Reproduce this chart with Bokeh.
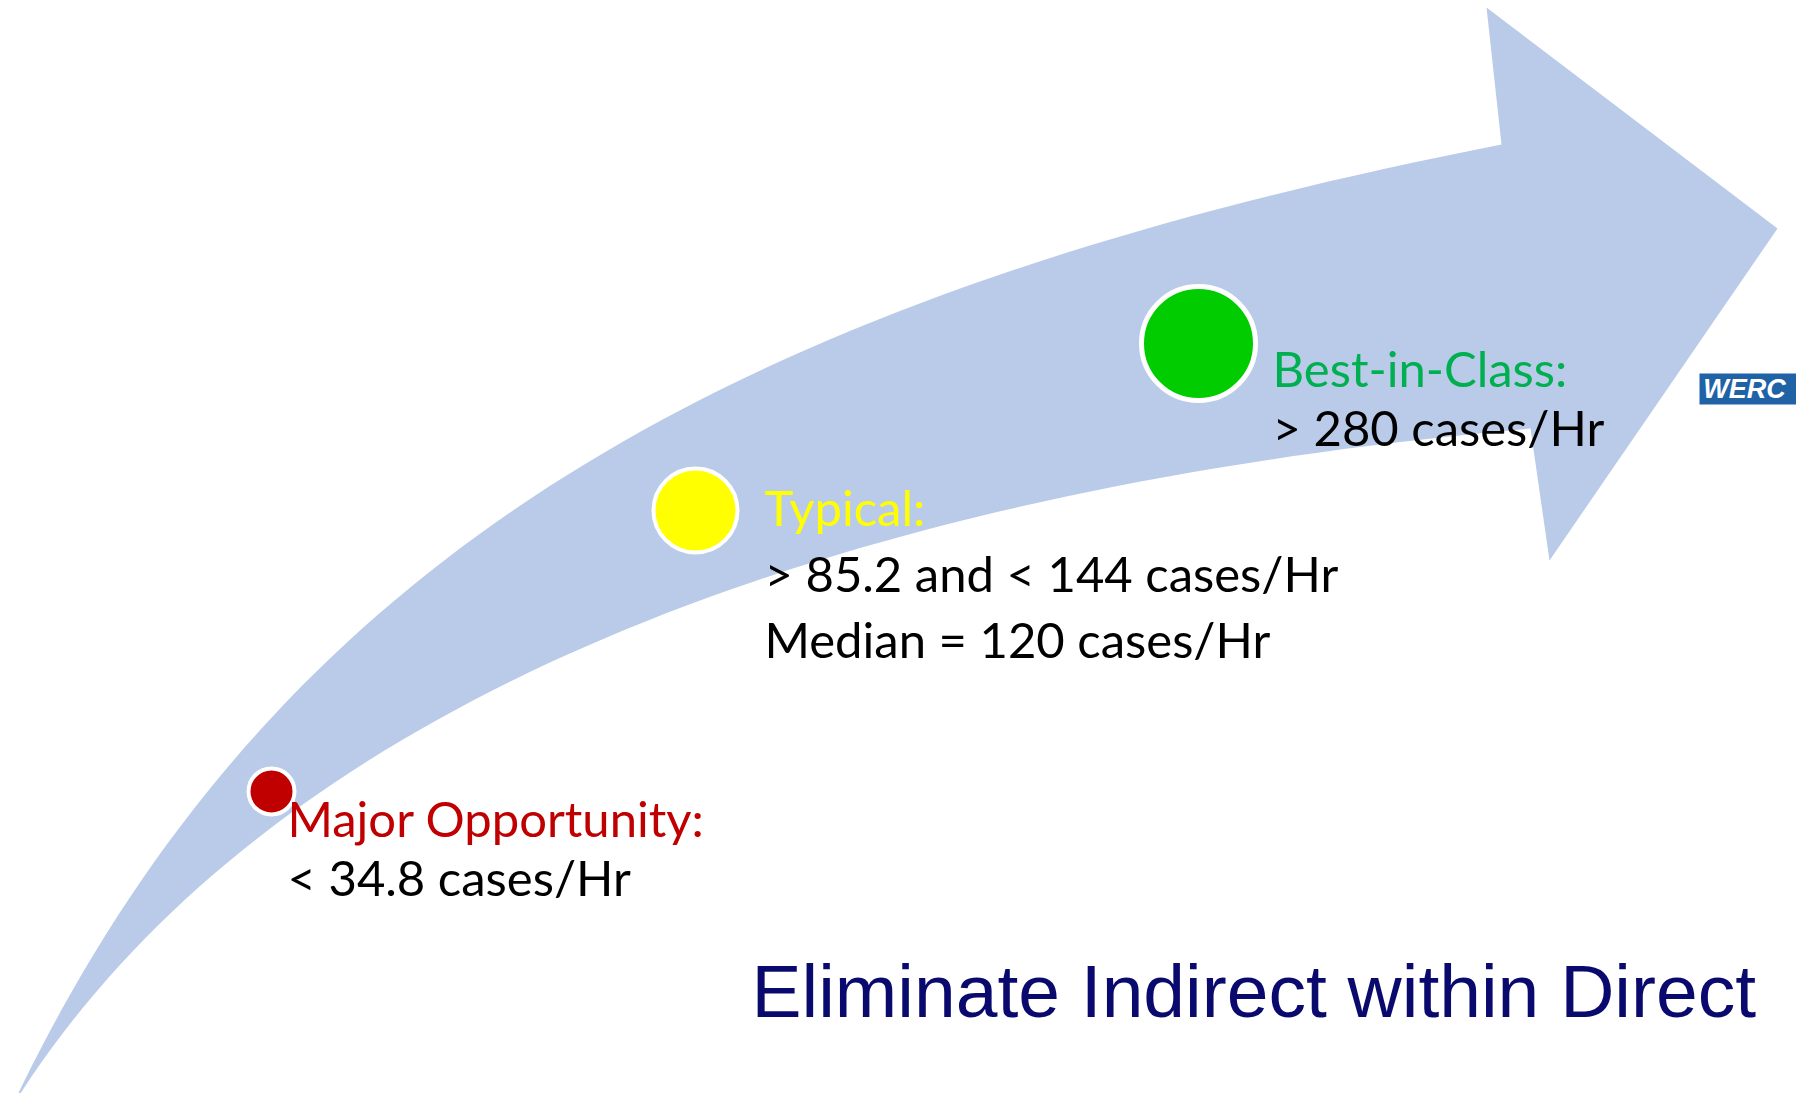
import numpy as np
from bokeh.plotting import figure
from bokeh.models import Range1d, ColumnDataSource
from bokeh.core.properties import value
from bokeh.embed import file_html
from bokeh.resources import INLINE

# ---------------- data ----------------
tiers = ["Major Opportunity:", "Typical:", "Best-in-Class:"]
tier_text_colors = ["#C00000", "#FFFF00", "#00B050"]
tier_dot_colors = ["#C00000", "#FFFF00", "#00CC00"]
major_max = 34.8
typical_low = 85.2
typical_high = 144
typical_median = 120
best_min = 280
unit = "cases/Hr"
subtitle = "Eliminate Indirect within Direct"
logo_text = "WERC"

detail_lines = [
    [f"< {major_max} {unit}"],
    [f"> {typical_low} and < {typical_high} {unit}", f"Median = {typical_median} {unit}"],
    [f"> {best_min} {unit}"],
]

# ---------------- layout (pixel positions in the picture) ----------------
W, H = 1796, 1093
dot_x = [271, 695, 1198]
dot_y = [791, 510, 343]
dot_r = [23, 42, 57]
dot_lw = [4, 4, 5]
label_x = [287, 764, 1272]
label_y = [817, 506, 367]
line_gap = [59, 66, 59]

ARROW = "#B9CBE8"
FONT = "Lato"
FS = "49px"


def bezier(p0, p1, p2, p3, n=80):
    t = np.linspace(0, 1, n)[:, None]
    P = [np.array(q, dtype=float) for q in (p0, p1, p2, p3)]
    pts = ((1 - t) ** 3) * P[0] + 3 * ((1 - t) ** 2) * t * P[1] + 3 * (1 - t) * t * t * P[2] + (t ** 3) * P[3]
    return pts


upper_edge = bezier((11, 1107), (268, 565), (716, 298), (1501, 144))
head = np.array([(1486, 7), (1777, 228), (1549, 560), (1530, 428)], dtype=float)
lower_edge = bezier((1530, 428), (813, 492), (259, 708), (11, 1107))
outline = np.vstack([upper_edge, head, lower_edge])

p = figure(width=W, height=H, x_range=Range1d(0, W), y_range=Range1d(H, 0),
           output_backend="svg", toolbar_location=None, min_border=0,
           x_axis_type=None, y_axis_type=None)
p.grid.visible = False
p.outline_line_color = None
p.background_fill_color = "white"
p.border_fill_color = "white"

p.patch(outline[:, 0], outline[:, 1], fill_color=ARROW, line_color=None)

dots = ColumnDataSource(dict(x=dot_x, y=dot_y, r=dot_r, c=tier_dot_colors, lw=dot_lw))
p.circle("x", "y", radius="r", fill_color="c", line_color="white", line_width="lw", source=dots)

# tier headings
heads = ColumnDataSource(dict(x=label_x, y=label_y, t=tiers, c=tier_text_colors))
p.text("x", "y", text="t", text_color="c", source=heads, text_font=value(FONT),
       text_font_size=value(FS), text_baseline="alphabetic", text_align="left")

# detail lines
dx, dy, dt = [], [], []
for i, lines in enumerate(detail_lines):
    for j, s in enumerate(lines):
        dx.append(label_x[i])
        dy.append(label_y[i] + line_gap[i] * (j + 1))
        dt.append(s)
p.text(dx, dy, text=dt, text_color="black", text_font=value(FONT),
       text_font_size=value(FS), text_baseline="alphabetic", text_align="left")

# bottom message
p.text([751], [990], text=[subtitle], text_color="#0A0A6E", text_font=value("Liberation Sans"),
       text_font_size=value("75px"), text_baseline="alphabetic", text_align="left")

# logo
p.quad(left=[1699], right=[1812], top=[373], bottom=[404], fill_color="#1F62A6", line_color=None)
p.text([1744], [388], text=[logo_text], text_color="white", text_font=value("Liberation Sans"),
       text_font_size=value("27px"), text_font_style="bold italic",
       text_baseline="middle", text_align="center")

open("out.html", "w").write(file_html(p, INLINE))
